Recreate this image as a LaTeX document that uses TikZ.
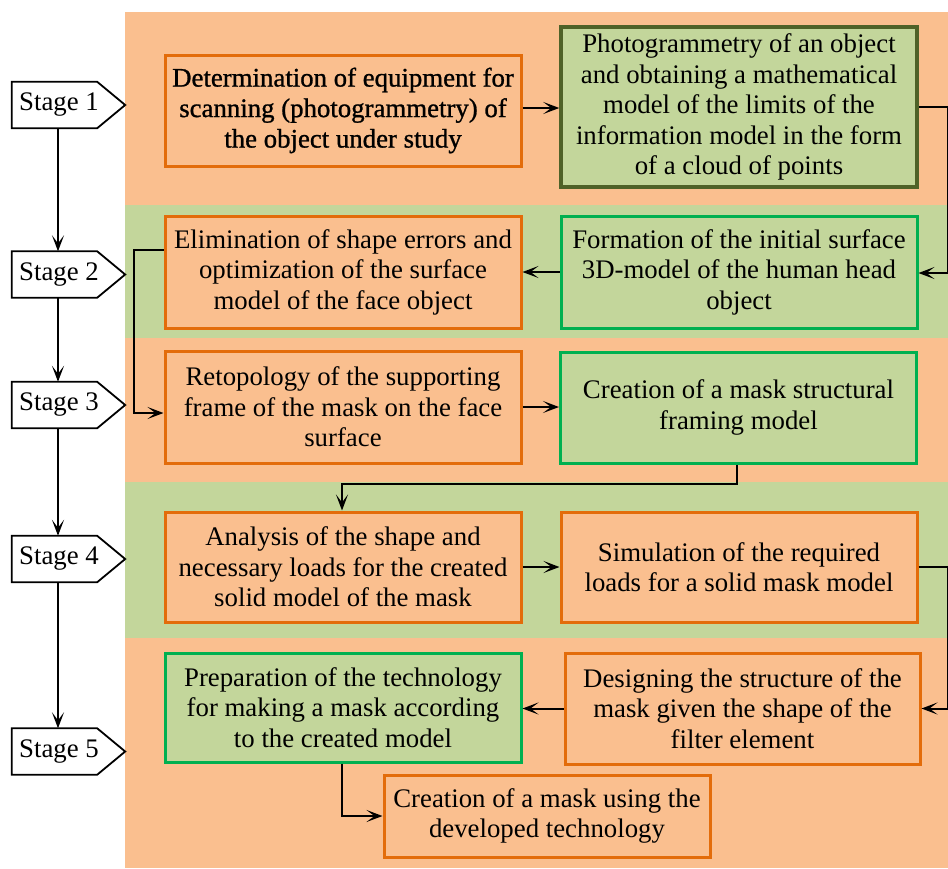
\documentclass[tikz,border=0pt]{standalone}
\usepackage{fontspec}
\setmainfont{Liberation Serif}
\newfontfamily\boldish{Liberation Serif}[FakeBold=1]
\usetikzlibrary{arrows.meta}
\definecolor{ofill}{HTML}{FABF8F}
\definecolor{gfill}{HTML}{C3D69B}
\definecolor{oline}{HTML}{E36C0A}
\definecolor{gline}{HTML}{00B050}
\definecolor{dline}{HTML}{4F6228}
\begin{document}
\begin{tikzpicture}[x=1pt,y=-1pt,
  font=\fontsize{26.8}{30.5}\selectfont,
  box/.style={draw, line width=3pt, minimum width=356pt, minimum height=111pt, align=center, inner sep=0pt},
  obox/.style={box, draw=oline, fill=ofill},
  gbox/.style={box, draw=gline, fill=gfill},
  dbox/.style={box, draw=dline, fill=gfill, line width=3.5pt},
  stagebox/.style={minimum width=85pt, minimum height=46pt, inner sep=0pt},
  stageline/.style={draw=black, line width=1.8pt, fill=white, line join=miter},
  arr/.style={draw=black, line width=2pt, -{Stealth[length=16pt,width=12pt,inset=8pt]}}
]
\useasboundingbox (0,0) rectangle (948,868);
% bands
\fill[ofill] (125,12) rectangle (948,205);
\fill[gfill] (125,205) rectangle (948,338);
\fill[ofill] (125,338) rectangle (948,482);
\fill[gfill] (125,482) rectangle (948,638);
\fill[ofill] (125,638) rectangle (948,868);

% stages
\foreach \n/\y in {1/105,2/274.5,3/405,4/559,5/751.5}{
  \node[stagebox] (S\n) at (54.5,\y) {};
  \path[stageline] (S\n.north west) -- (S\n.north east) -- ([xshift=28pt]S\n.east) -- (S\n.south east) -- (S\n.south west) -- cycle;
  \node[stagebox] (T\n) at (54.5,\y) {\hspace*{9pt}Stage \n};
}
\foreach \a/\b in {1/2,2/3,3/4,4/5}{
  \draw[arr] ([xshift=3.5pt]S\a.south) -- ([xshift=3.5pt]S\b.north);
}

% boxes
\node[obox] (B1) at (343,110.5) {\boldish Determination of equipment for\\\boldish scanning (photogrammetry) of\\\boldish the object under study};
\node[dbox, minimum height=160pt] (B2) at (739,107) {Photogrammetry of an object\\and obtaining a mathematical\\model of the limits of the\\information model in the form\\of a cloud of points};
\node[obox, minimum height=112pt] (B3) at (343,272) {Elimination of shape errors and\\optimization of the surface\\model of the face object};
\node[gbox, minimum height=112pt] (B4) at (739,272) {Formation of the initial surface\\3D-model of the human head\\object};
\node[obox, minimum height=112pt] (B5) at (343,407) {Retopology of the supporting\\frame of the mask on the face\\surface};
\node[gbox] (B6) at (738.5,407.5) {Creation of a mask structural\\framing model};
\node[obox, minimum height=110pt] (B7) at (343,567) {Analysis of the shape and\\necessary loads for the created\\solid model of the mask};
\node[obox, minimum height=110pt] (B8) at (739,567) {Simulation of the required\\loads for a solid mask model};
\node[gbox, minimum height=109pt] (B9) at (343,707.5) {Preparation of the technology\\for making a mask according\\to the created model};
\node[obox, minimum width=355pt] (B10) at (742.5,708.5) {Designing the structure of the\\mask given the shape of the\\filter element};
\node[obox, minimum width=326pt, minimum height=82pt] (B11) at (547,816) {Creation of a mask using the\\developed technology};

% connectors
\draw[arr] ([yshift=2.5pt]B1.east) -- ([yshift=2.5pt]B1.east -| B2.west);
\draw[arr] (B2.east) -- ++(29,0) |- ([yshift=-1pt]B4.east);
\draw[arr] (B4.west) -- (B4.west -| B3.east);
\draw[arr] ([yshift=22pt]B3.west) -| ([xshift=-30pt,yshift=-6pt]B5.west) -- ([yshift=-6pt]B5.west);
\draw[arr] (B5.west -| B5.east) -- (B5.east -| B6.west);
\draw[arr] ([xshift=-1.5pt]B6.south) -- ++(0,19) -| ([xshift=-1pt]B7.north);
\draw[arr] (B7.east) -- (B7.east -| B8.west);
\draw[arr] (B8.east) -- ++(29,0) |- (B10.east);
\draw[arr] (B10.west) -- (B10.west -| B9.east);
\draw[arr] ([xshift=-1pt]B9.south) |- (B11.west);
\end{tikzpicture}
\end{document}
